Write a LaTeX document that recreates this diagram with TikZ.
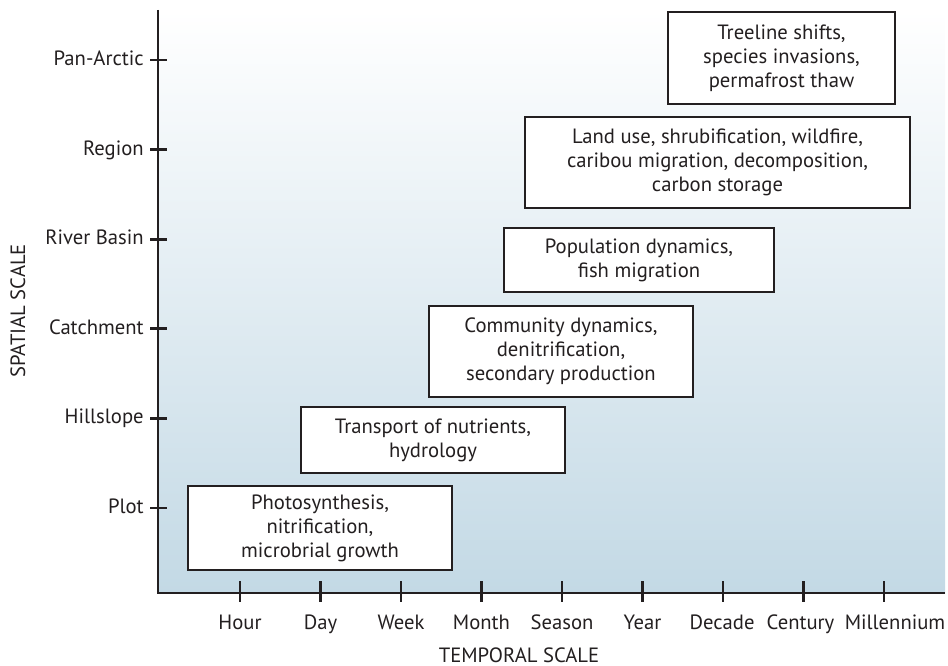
\documentclass[tikz,border=0pt]{standalone}
\usepackage{fontspec}
\setmainfont{PT Sans}
\usetikzlibrary{positioning}
\definecolor{ink}{RGB}{35,31,32}
\definecolor{scaleblue}{RGB}{195,217,229}
\tikzstyle{scales}=[x=0.75pt, y=-0.75pt, font=\fontsize{15.5}{18}\selectfont, text=ink]
\tikzstyle{axis}=[draw=ink, line width=2.2pt, line join=miter]
\tikzstyle{tick}=[draw=ink, line width=2pt]
\tikzstyle{proc}=[draw=ink, line width=2pt, fill=white, align=center, inner sep=0pt]
\tikzstyle{ylab}=[anchor=base east, inner sep=0pt]
\tikzstyle{xlab}=[anchor=base, inner sep=0pt]
\begin{document}
\begin{tikzpicture}[scales]
	\useasboundingbox (0,0) rectangle (948,666);
	\shade[top color=white, bottom color=scaleblue] (158,10) rectangle (945,593);
	%%
	\coordinate (ytop) at (158,10);
	\coordinate (origin) at (158,593);
	\coordinate (xend) at (945,593);
	\draw[axis] (ytop) -- (origin) -- (xend);
	%%
	\foreach \lab [count=\i] in {Pan-Arctic,Region,River Basin,Catchment,Hillslope,Plot}{
		\draw[tick] (150,{60+(\i-1)*89.6}) -- (167,{60+(\i-1)*89.6});
		\draw (144,{65.5+(\i-1)*89.6}) node[ylab] (y\i) {\lab};
	}
	\foreach \lab/\dx [count=\i] in {Hour/0,Day/0,Week/0,Month/0,Season/0,Year/0,Decade/-1,Century/-3,Millennium/11}{
		\draw[tick] ({240+(\i-1)*80.5},581) -- ({240+(\i-1)*80.5},602);
		\draw ({240+(\i-1)*80.5+\dx},629) node[xlab] (x\i) {\lab};
	}
	%%
	\draw (25,311) node[rotate=90, anchor=base, inner sep=0pt] (ytitle) {SPATIAL SCALE};
	\draw (519,662) node[xlab, text depth=0pt] (xtitle) {TEMPORAL SCALE};
	%%%%%%
	\draw (320,528) node[proc, minimum width=198pt, minimum height=63pt] (plot) {Photosynthesis,\\nitrification,\\microbrial growth};
	\draw (433,440) node[proc, minimum width=198pt, minimum height=49.5pt] (hill) {Transport of nutrients,\\hydrology};
	\draw (561,351.5) node[proc, minimum width=198pt, minimum height=68.25pt] (catch) {Community dynamics,\\denitrification,\\secondary production};
	\draw (639,260) node[proc, minimum width=202.5pt, minimum height=48pt] (basin) {Population dynamics,\\fish migration};
	\draw (717.5,162.5) node[proc, minimum width=288.75pt, minimum height=68.25pt] (region) {Land use, shrubification, wildfire,\\caribou migration, decomposition,\\carbon storage};
	\draw (781.5,58) node[proc, minimum width=170.25pt, minimum height=69pt] (pan) {Treeline shifts,\\species invasions,\\permafrost thaw};
\end{tikzpicture}
\end{document}
